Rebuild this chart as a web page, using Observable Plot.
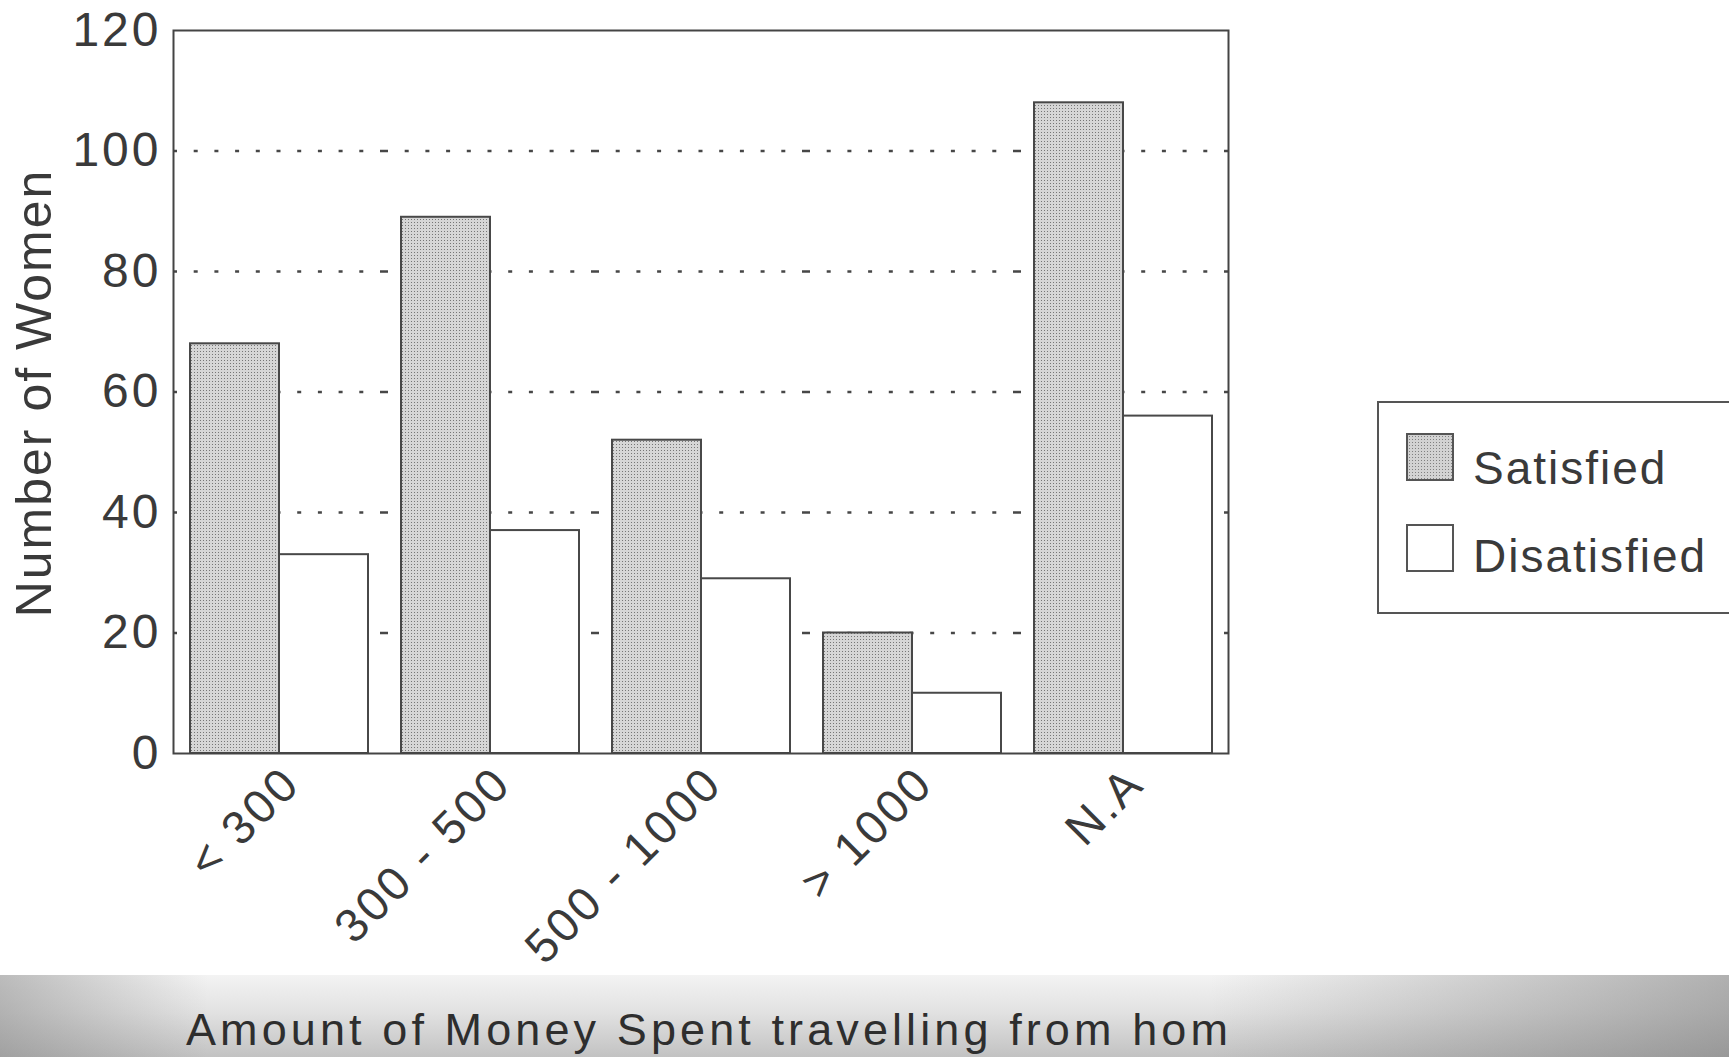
<!DOCTYPE html>
<html><head><meta charset="utf-8">
<script src="https://cdn.jsdelivr.net/npm/d3@7"></script>
<script src="https://cdn.jsdelivr.net/npm/@observablehq/plot@0.6"></script>
<style>
html,body{margin:0;padding:0;background:#fff;overflow:hidden;width:1729px;height:1057px;}
#wrap{position:relative;width:1729px;height:1057px;overflow:hidden;font-family:"Liberation Sans",Arial,sans-serif;color:#3a3a3a;}
#chart{position:absolute;left:0;top:0;}
#chart svg text{letter-spacing:3px;}
.ylab{position:absolute;left:34px;top:393px;transform:translate(-50%,-50%) rotate(-90deg);font-size:50px;line-height:50px;letter-spacing:2px;white-space:nowrap;}
.legend{position:absolute;left:1377px;top:401px;width:420px;height:213px;border:2px solid #555;box-sizing:border-box;background:#fff;}
.sw{position:absolute;left:27px;width:48px;height:48px;border:2px solid #555;box-sizing:border-box;}
.sw.sat{top:30px;background-color:#d2d2d2;background-image:radial-gradient(#808080 0.7px,transparent 0.9px);background-size:3px 3px;}
.sw.dis{top:121px;background:#fff;}
.lt{position:absolute;left:94px;font-size:46px;line-height:46px;letter-spacing:2px;white-space:nowrap;}
.band{position:absolute;left:0;top:975px;width:1729px;height:82px;background:linear-gradient(to bottom,#f3f3f3 0%,#e2e2e2 45%,#c2c2c2 100%);}
.band2{position:absolute;left:0;top:975px;width:1729px;height:82px;background:linear-gradient(to right,rgba(120,120,120,0.45) 0%,rgba(120,120,120,0) 12%,rgba(120,120,120,0) 70%,rgba(110,110,110,0.5) 100%);}
.xlab{position:absolute;left:186px;top:1007px;font-size:45px;line-height:45px;letter-spacing:4.1px;white-space:nowrap;color:#2e2e2e;}
</style></head>
<body>
<div id="wrap">
  <div class="band"></div><div class="band2"></div>
  <div id="chart"></div>
  <div class="ylab">Number of Women</div>
  <div class="legend">
    <div class="sw sat"></div><div class="lt" style="top:42px">Satisfied</div>
    <div class="sw dis"></div><div class="lt" style="top:130px">Disatisfied</div>
  </div>
  <div class="xlab">Amount of Money Spent travelling from hom</div>
</div>
<script>
const categories = ["< 300", "300 - 500", "500 - 1000", "> 1000", "N.A"];
const series = ["Satisfied", "Disatisfied"];
const satisfied = [68, 89, 52, 20, 108];
const disatisfied = [33, 37, 29, 10, 56];
const yTicks = [0, 20, 40, 60, 80, 100, 120];
const gridTicks = [20, 40, 60, 80, 100];

const satRows = categories.map((c, i) => ({cat: c, series: series[0], value: satisfied[i]}));
const disRows = categories.map((c, i) => ({cat: c, series: series[1], value: disatisfied[i]}));

const svg = Plot.plot({
  width: 1729,
  height: 900,
  marginLeft: 171,
  marginRight: 500,
  marginTop: 30,
  marginBottom: 147,
  style: {fontFamily: "'Liberation Sans', Arial, sans-serif", color: "#3a3a3a", background: "transparent", overflow: "visible"},
  fx: {domain: categories, padding: 0, label: null},
  x: {domain: series, paddingInner: 0, paddingOuter: 0.18, axis: null},
  y: {domain: [0, 120], label: null},
  marks: [
    Plot.gridY(gridTicks, {stroke: "#474747", strokeOpacity: 1, strokeWidth: 2.5, strokeDasharray: "4,16.7"}),
    Plot.barY(satRows, {fx: "cat", x: "series", y: "value", fill: "url(#stip)", stroke: "#484848", strokeWidth: 2}),
    Plot.barY(disRows, {fx: "cat", x: "series", y: "value", fill: "white", stroke: "#484848", strokeWidth: 2}),
    Plot.frame({facet: "super", stroke: "#444", strokeWidth: 2}),
    Plot.axisY({ticks: yTicks, tickSize: 0, tickPadding: 12, fontSize: 48, label: null}),
    Plot.axisFx({anchor: "bottom", tickRotate: -45, tickSize: 0, tickPadding: 22, dx: 13, fontSize: 47, label: null})
  ]
});

const defs = d3.select(svg).insert("defs", ":first-child");
const pat = defs.append("pattern").attr("id", "stip").attr("patternUnits", "userSpaceOnUse").attr("width", 3).attr("height", 3);
pat.append("rect").attr("width", 3).attr("height", 3).attr("fill", "#d6d6d6");
pat.append("rect").attr("width", 1).attr("height", 1).attr("fill", "#767676");

document.getElementById("chart").appendChild(svg);
</script>
</body></html>
